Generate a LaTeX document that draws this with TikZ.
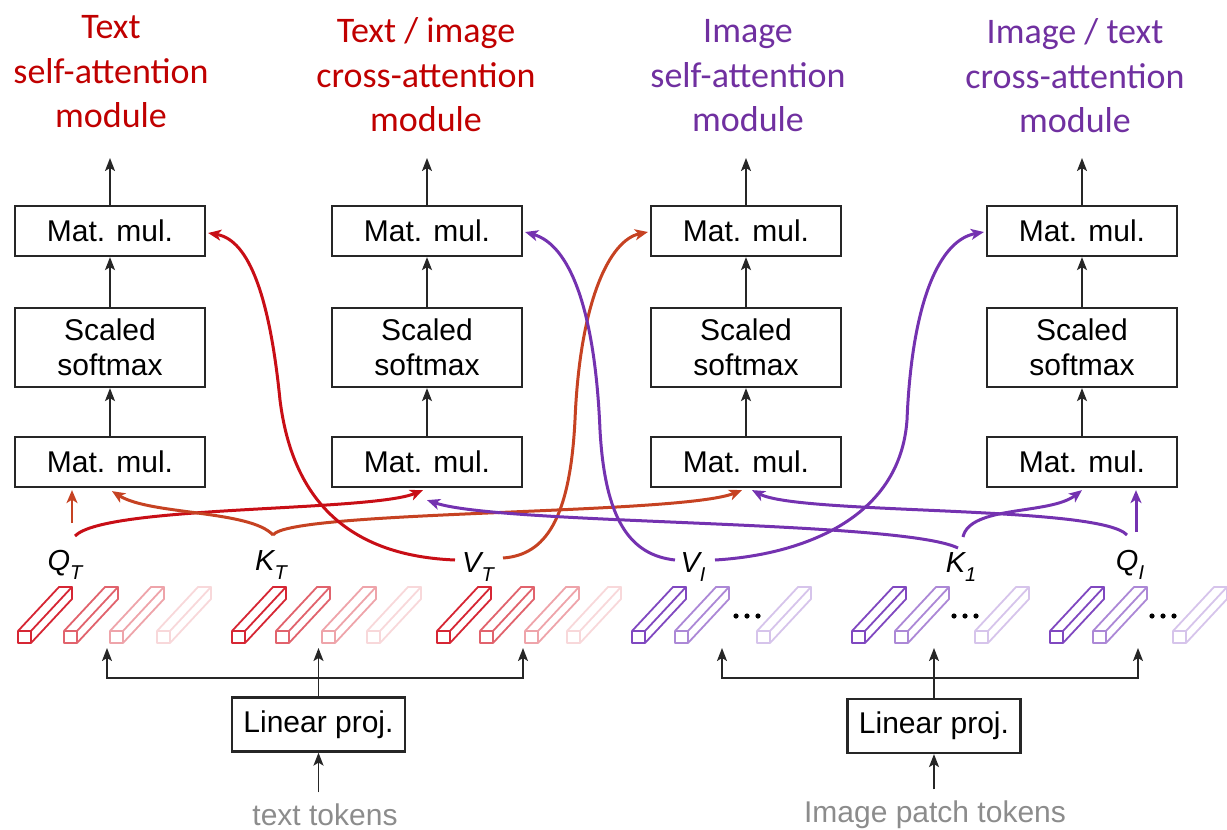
\documentclass[tikz,border=0pt]{standalone}
\usepackage{fontspec}
\setmainfont{Liberation Sans}
\newfontfamily\headfont{Carlito}
\usetikzlibrary{arrows.meta,calc}

\definecolor{headred}{RGB}{192,0,0}
\definecolor{headpurple}{RGB}{112,48,160}
\definecolor{linkred}{RGB}{200,14,22}
\definecolor{linkorange}{RGB}{198,66,34}
\definecolor{linkpurple}{RGB}{116,50,176}
\definecolor{barred}{RGB}{214,38,52}
\definecolor{barpurple}{RGB}{128,72,192}
\definecolor{tokengray}{RGB}{140,140,140}

\newcommand{\qkv}[2]{#1\raisebox{-0.32em}{\fontsize{20}{20}\selectfont #2}}

\tikzset{
  opbox/.style={draw=black!85, line width=2.2pt, minimum width=190pt, inner sep=0pt,
                align=center, font=\fontsize{30}{35}\selectfont},
  mulbox/.style={opbox, minimum height=50pt},
  softbox/.style={opbox, minimum height=79pt},
  projbox/.style={opbox, minimum width=173pt, minimum height=54pt},
  flow/.style={-{Stealth[length=13pt,width=10pt,inset=3pt]}, line width=1.8pt, draw=black!85},
  link/.style={-{Stealth[length=13pt,width=11pt,inset=3.5pt]}, line width=3pt},
  head/.style={align=center, font=\headfont\fontsize{36}{44.5}\selectfont},
  qkvlabel/.style={font=\itshape\fontsize{29}{30}\selectfont, inner sep=0pt},
  tokens/.style={text=tokengray, font=\fontsize{30}{32}\selectfont},
  bar/.pic={
    \draw[line width=1.8pt, line join=round]
      (0,0) -- (13,0) -- (13,-12) -- (0,-12) -- cycle
      (0,-12) -- (41,-56) -- (54,-56) -- (13,-12)
      (54,-56) -- (54,-44) -- (13,0);
  }
}

\begin{document}
\begin{tikzpicture}[x=1pt,y=-1pt]
\useasboundingbox (0,0) rectangle (1227,830);

% module headings
\node[head, text=headred]    (h1) at (111,72) {Text\\self-attention\\module};
\node[head, text=headred]    (h2) at (426,75) {Text / image\\cross-attention\\module};
\node[head, text=headpurple] (h3) at (748,76) {Image\\self-attention\\module};
\node[head, text=headpurple] (h4) at (1075,76) {Image / text\\cross-attention\\module};

% attention columns
\foreach \i/\x in {1/110, 2/427, 3/746, 4/1082} {
  \node[mulbox]  (m\i) at (\x,231)   {Mat. mul.};
  \node[softbox] (s\i) at (\x,347.5) {Scaled\\softmax};
  \node[mulbox]  (b\i) at (\x,462)   {Mat. mul.};
  \coordinate (out\i) at (\x,158);
  \draw[flow] (b\i) -- (s\i);
  \draw[flow] (s\i) -- (m\i);
  \draw[flow] (m\i) -- (out\i);
}

% query / key / value labels
\node[qkvlabel] (qt) at (65,565)   {\qkv{Q}{T}};
\node[qkvlabel] (kt) at (271,565)  {\qkv{K}{T}};
\node[qkvlabel] (vt) at (478,567)  {\qkv{V}{T}};
\node[qkvlabel] (vi) at (693,567)  {\qkv{V}{I}};
\node[qkvlabel] (ki) at (961,567)  {\qkv{K}{1}};
\node[qkvlabel] (qi) at (1130,565) {\qkv{Q}{I}};

% connector start points beside the labels
\coordinate (qt1) at (72,523);
\coordinate (qt2) at (75,536);
\coordinate (kt0) at (273,535);
\coordinate (vt1) at (455,560);
\coordinate (vt2) at (503,558);
\coordinate (vi1) at (675,560);
\coordinate (vi2) at (715,560);
\coordinate (ki1) at (958,548);
\coordinate (ki2) at (963,537);
\coordinate (qi1) at (1127,535);
\coordinate (qi2) at (1136,532);

% text-side connectors
\draw[link, linkorange, line width=2.2pt] (qt1) -- ($(b1.south)+(-38,2)$);
\draw[link, linkred] (qt2) .. controls (105,505) and (370,512) .. ($(b2.south)+(-4,2)$);
\draw[link, linkorange] (kt0) .. controls (250,510) and (150,515) .. ($(b1.south)+(2,3)$);
\draw[link, linkorange] (kt0) .. controls (290,510) and (680,515) .. ($(b3.south)+(-4,2)$);
\draw[link, linkred] (vt1) .. controls (330,555) and (290,480) .. (280,400)
                           .. controls (270,300) and (250,240) .. ($(m1.east)+(2,2)$);
\draw[link, linkorange] (vt2) .. controls (545,555) and (570,520) .. (575,420)
                              .. controls (580,300) and (610,240) .. ($(m3.west)+(-2,1)$);

% image-side connectors
\draw[link, linkpurple] (vi1) .. controls (630,555) and (605,520) .. (600,430)
                              .. controls (595,310) and (570,245) .. ($(m2.east)+(2,1)$);
\draw[link, linkpurple] (vi2) .. controls (800,555) and (900,520) .. (907,420)
                              .. controls (912,300) and (940,240) .. ($(m4.west)+(-2,1)$);
\draw[link, linkpurple] (ki1) .. controls (900,520) and (500,525) .. ($(b2.south)+(0,12)$);
\draw[link, linkpurple] (qi1) .. controls (1100,505) and (800,515) .. ($(b3.south)+(6,2)$);
\draw[link, linkpurple] (ki2) .. controls (970,505) and (1050,515) .. ($(b4.south)+(0,2)$);
\draw[link, linkpurple] (qi2) -- ($(b4.south)+(54,2)$);

% text token embeddings
\foreach \x/\s in {18/100, 64/72, 110/42, 157/18,
                   232/100, 276/72, 322/42, 367/18,
                   437/100, 480/72, 525/42, 567/18}
  \pic[color=barred!\s] at (\x,643) {bar};

% image token embeddings
\foreach \x/\s in {632/100, 675/65, 757/32,
                   852/100, 895/65, 975/32,
                   1050/100, 1093/65, 1173/32}
  \pic[color=barpurple!\s] at (\x,643) {bar};
\foreach \x in {736, 954, 1152} {
  \fill (\x,616) circle (2.6pt);
  \fill (\x+11,616) circle (2.6pt);
  \fill (\x+22,616) circle (2.6pt);
}

% linear projections
\node[projbox] (lp1) at (318.5,724.5) {Linear proj.};
\node[projbox] (lp2) at (934,726)     {Linear proj.};
\node[tokens]  (tx)  at (325,815)     {text tokens};
\node[tokens]  (ix)  at (935,815)     {Image patch tokens};

\coordinate (tj) at (318.5,678);
\coordinate (ta) at (107,648);
\coordinate (tb) at (318.5,648);
\coordinate (tc) at (523,648);
\coordinate (ij) at (934,678);
\coordinate (ia) at (722,648);
\coordinate (ib) at (934,648);
\coordinate (ic) at (1138,648);

\draw[flow] (lp1.north) -- (tb);
\draw[flow] (tj) -| (ta);
\draw[flow] (tj) -| (tc);
\draw[flow] (lp2.north) -- (ib);
\draw[flow] (ij) -| (ia);
\draw[flow] (ij) -| (ic);

\draw[flow, shorten <=8pt] (tx.north -| lp1) -- (lp1.south);
\draw[flow, shorten <=8pt] (ix.north -| lp2) -- (lp2.south);
\end{tikzpicture}
\end{document}
